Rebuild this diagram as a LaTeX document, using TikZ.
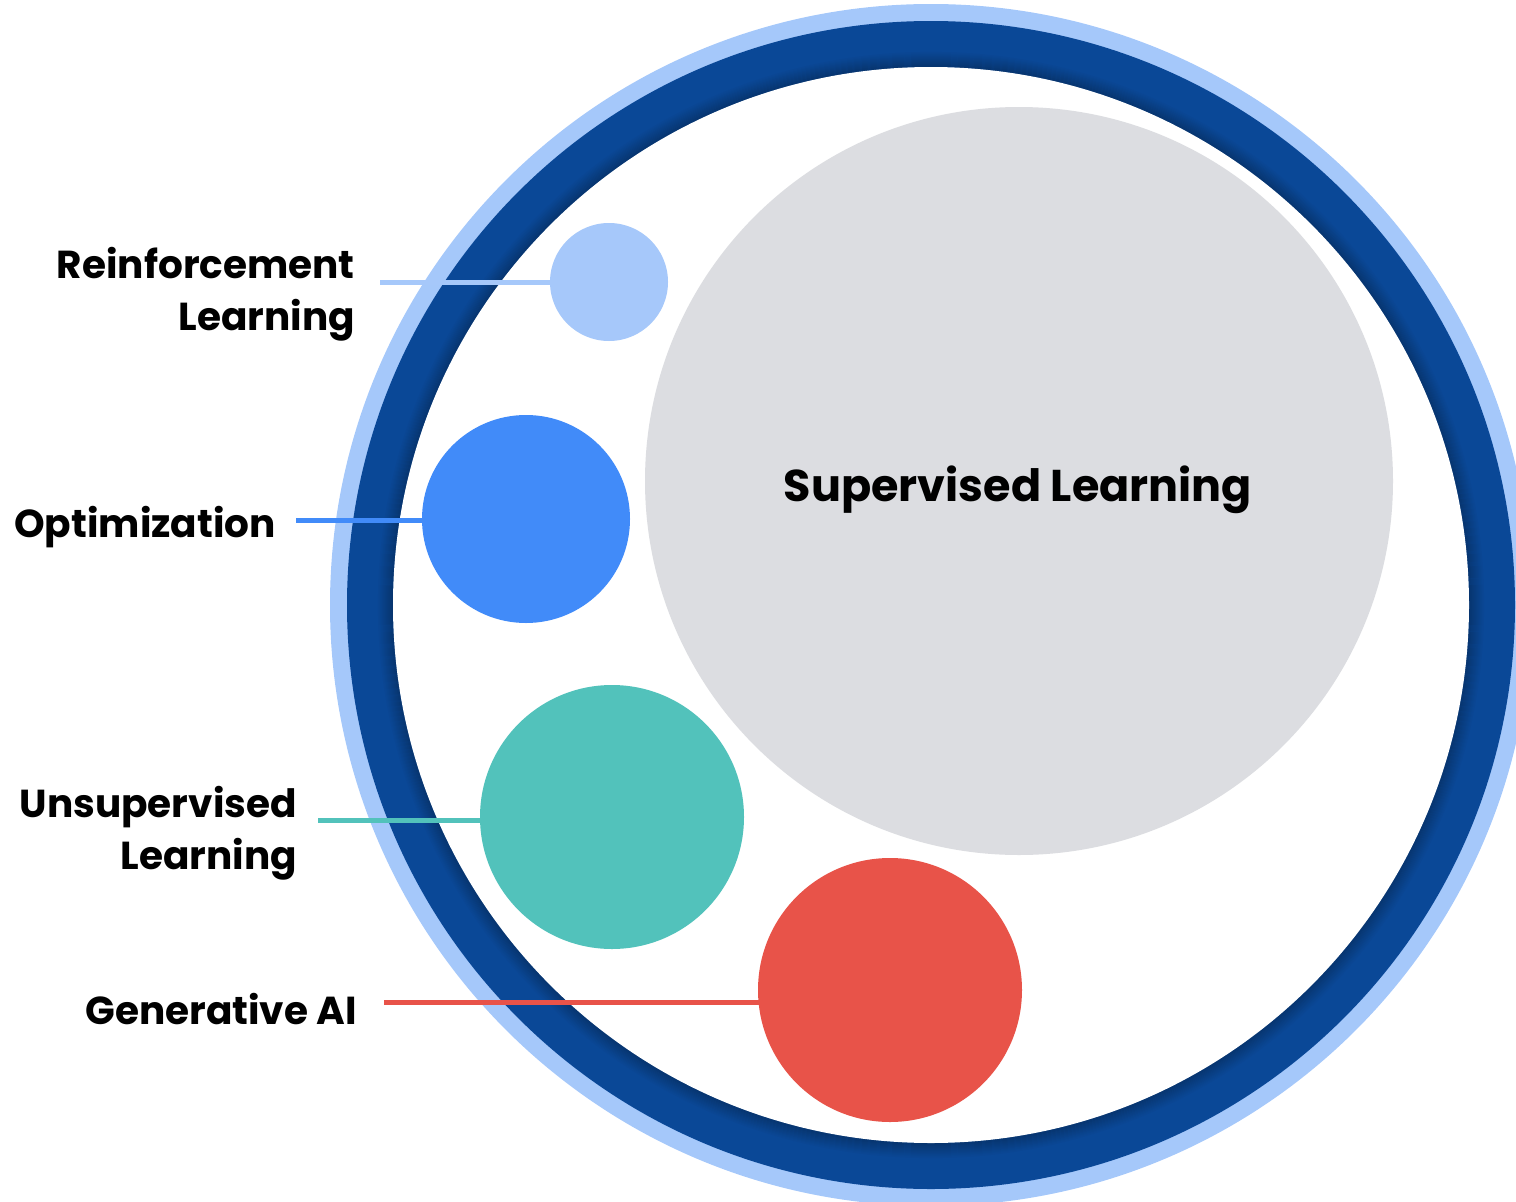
\documentclass[tikz,border=0pt]{standalone}
\usepackage{fontspec}
\setmainfont{Poppins}
\definecolor{ringlight}{HTML}{A5C8FA}
\definecolor{ringdark}{HTML}{0A4897}
\definecolor{ringshade}{HTML}{07356F}
\definecolor{supgray}{HTML}{DCDDE1}
\definecolor{reincol}{HTML}{A6C8FA}
\definecolor{optcol}{HTML}{418BF9}
\definecolor{unscol}{HTML}{52C2BB}
\definecolor{gencol}{HTML}{E85349}
\tikzset{
  blob/.style={circle, inner sep=0pt, minimum size=#1},
  lbl/.style={font=\fontsize{39}{52}\selectfont\bfseries, align=right, inner sep=0pt, anchor=base east},
  conn/.style={line width=5pt}
}
\begin{document}
\begin{tikzpicture}[x=1pt,y=-1pt]
\useasboundingbox (0,0) rectangle (1516,1202);
\clip (0,0) rectangle (1516,1202);
% rings
\fill[ringlight] (931,605) circle (601);
\fill[ringdark] (931,605) circle (584);
\foreach \i in {0,...,14}{
  \pgfmathsetmacro{\p}{100-\i*6.5}
  \draw[line width=1.2pt, color=ringshade!\p!ringdark] (931,605) circle ({538+\i+0.5});
}
\fill[white] (931,605) circle (538);
% connector free ends
\coordinate (reinend) at (380,282);
\coordinate (optend) at (296,520);
\coordinate (unsend) at (318,820);
\coordinate (genend) at (384,1002);
% circles
\node[blob=748pt, fill=supgray] (sup) at (1019,481) {};
\node[font=\fontsize{44.5}{50}\selectfont\bfseries, anchor=base] (suplbl) at (1018,501) {Supervised Learning};
\node[blob=118pt, fill=reincol] (rein) at (609,282) {};
\node[blob=208pt, fill=optcol] (opt) at (526,519) {};
\node[blob=264pt, fill=unscol] (uns) at (612,817) {};
\node[blob=264pt, fill=gencol] (gen) at (890,990) {};
% connectors
\draw[conn, reincol] (reinend) -- (rein.west |- reinend);
\draw[conn, optcol] (optend) -- (opt.west |- optend);
\draw[conn, unscol] (unsend) -- (uns.west |- unsend);
\draw[conn, gencol] (genend) -- ([xshift=1pt]gen.west |- genend);
% labels
\node[lbl] (reinlbl) at (355,330) {Reinforcement\\Learning};
\node[lbl] (optlbl) at (276,537) {Optimization};
\node[lbl] (unslbl) at (297,869) {Unsupervised\\Learning};
\node[lbl] (genlbl) at (357,1024) {Generative AI};
\end{tikzpicture}
\end{document}
